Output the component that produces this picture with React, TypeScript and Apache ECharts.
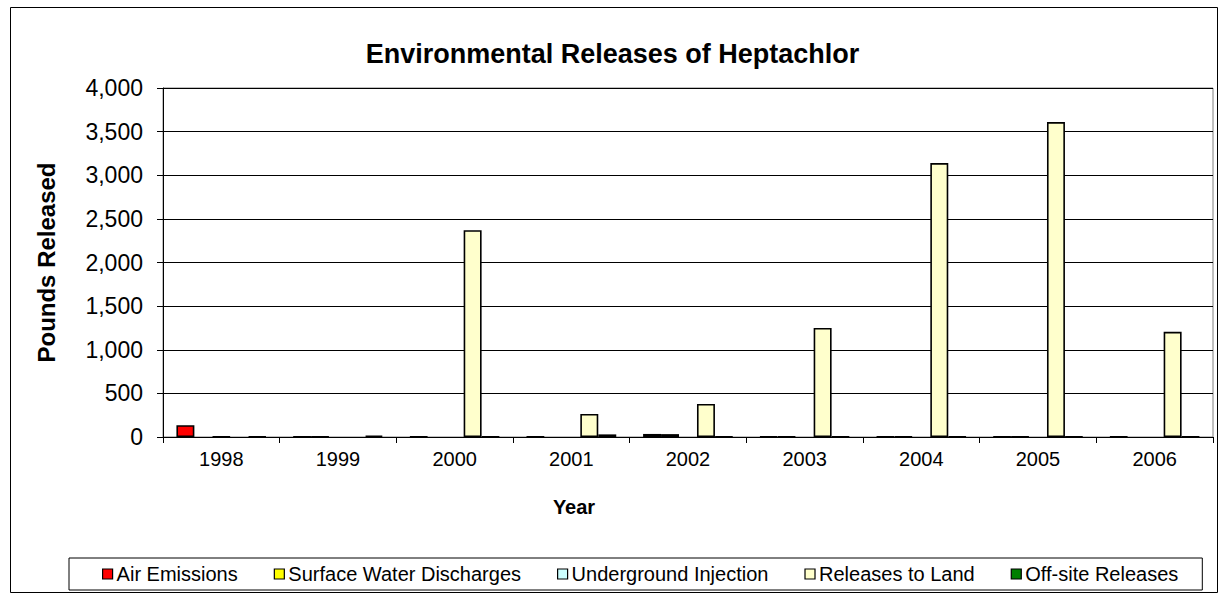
import React, { useEffect, useRef } from "react";
import * as echarts from "echarts";

const years = ["1998", "1999", "2000", "2001", "2002", "2003", "2004", "2005", "2006"];
// "-" = no release (nothing drawn)
const airEmissions = [135, 2, 3, 2, 35, 4, 3, 3, 3];
const surfaceWater = ["-", 2, "-", "-", 33, 6, 4, 2, "-"];
const undergroundInjection = [4, "-", "-", "-", "-", "-", "-", "-", "-"];
const releasesToLand = ["-", "-", 2370, 265, 378, 1250, 3140, 3610, 1205];
const offsiteReleases = [6, 14, 5, 30, 4, 6, 4, 4, 4];
const yTicks = { min: 0, max: 4000, interval: 500 };

const FONT = "Liberation Sans, Arial, sans-serif";

export default function App() {
  const ref = useRef<HTMLDivElement>(null);
  useEffect(() => {
    if (!ref.current) return;
    const chart = echarts.init(ref.current, undefined, { renderer: "svg" });
    const mk = (name: string, data: any[], color: string) => ({
      name,
      type: "bar",
      data,
      barGap: "0%",
      barCategoryGap: "23%",
      itemStyle: { color, borderColor: "#000", borderWidth: 1.6 },
    });
    chart.setOption({
      animation: false,
      textStyle: { fontFamily: FONT },
      title: {
        text: "Environmental Releases of Heptachlor",
        left: "center",
        top: 35,
        textStyle: { fontFamily: FONT, fontSize: 27, fontWeight: "bold", color: "#000" },
      },
      grid: {
        left: 163,
        right: 12,
        top: 88,
        bottom: 163,
        show: true,
        borderColor: "#808080",
        borderWidth: 1,
        backgroundColor: "transparent",
      },
      legend: {
        left: 69,
        top: 558,
        padding: [6, 24, 6, 33],
        itemGap: 36,
        itemWidth: 10,
        itemHeight: 10,
        borderColor: "#000",
        borderWidth: 1,
        icon: "rect",
        itemStyle: { borderColor: "#000", borderWidth: 1.2 },
        textStyle: { fontFamily: FONT, fontSize: 20, color: "#000", padding: [0, 0, 0, -1] },
        data: ["Air Emissions", "Surface Water Discharges", "Underground Injection", "Releases to Land", "Off-site Releases"],
      },
      xAxis: {
        type: "category",
        data: years,
        name: "Year",
        nameLocation: "middle",
        nameGap: 60,
        nameTextStyle: {
          fontFamily: FONT,
          fontSize: 20,
          fontWeight: "bold",
          color: "#000",
          padding: [0, 228, 0, 0],
        },
        axisLine: { lineStyle: { color: "#000", width: 1 } },
        axisTick: { show: true, length: 6, lineStyle: { color: "#000" } },
        axisLabel: { fontFamily: FONT, fontSize: 20, color: "#000", margin: 12 },
      },
      yAxis: {
        type: "value",
        min: yTicks.min,
        max: yTicks.max,
        interval: yTicks.interval,
        name: "Pounds Released",
        nameLocation: "middle",
        nameRotate: 90,
        nameGap: 105,
        nameTextStyle: { fontFamily: FONT, fontSize: 24, fontWeight: "bold", color: "#000" },
        axisLine: { show: true, lineStyle: { color: "#000", width: 1 } },
        axisTick: { show: true, length: 6, lineStyle: { color: "#000" } },
        axisLabel: {
          fontFamily: FONT,
          fontSize: 23,
          color: "#000",
          margin: 20,
          formatter: (v: number) => v.toLocaleString("en-US"),
        },
        splitLine: { show: true, lineStyle: { color: "#000", width: 1 } },
      },
      graphic: [
        {
          type: "rect",
          shape: { x: 10.5, y: 7.5, width: 1207, height: 585 },
          style: { fill: "none", stroke: "#000", lineWidth: 1 },
          silent: true,
        },
      ],
      series: [
        mk("Air Emissions", airEmissions, "#FF0000"),
        mk("Surface Water Discharges", surfaceWater, "#FFFF00"),
        mk("Underground Injection", undergroundInjection, "#CCFFFF"),
        mk("Releases to Land", releasesToLand, "#FFFFCC"),
        mk("Off-site Releases", offsiteReleases, "#008000"),
      ],
    });
    return () => chart.dispose();
  }, []);
  return (
    <div
      ref={ref}
      style={{ position: "fixed", left: 0, top: 0, width: 1225, height: 600, background: "#fff" }}
    />
  );
}
